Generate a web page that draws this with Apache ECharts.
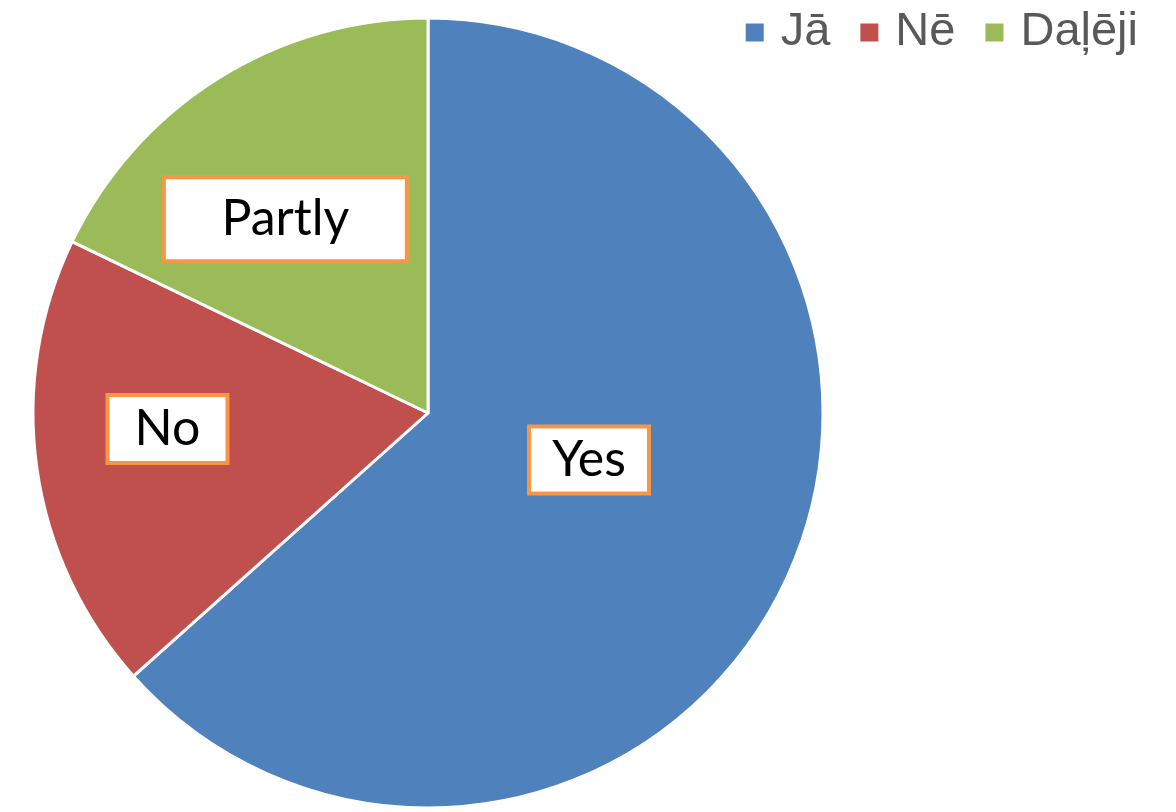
<!DOCTYPE html>
<html>
<head>
<meta charset="utf-8">
<script src="https://cdn.jsdelivr.net/npm/echarts@6/dist/echarts.min.js"></script>
<style>
  html, body { margin: 0; padding: 0; background: #ffffff; }
  #chart { width: 1176px; height: 812px; }
</style>
</head>
<body>
<div id="chart"></div>
<script>
// Survey answers: legend names, slice labels and response counts
const legendNames = ['Jā', 'Nē', 'Daļēji'];
const sliceLabels = ['Yes', 'No', 'Partly'];
const responses = [71, 21, 20];
const sliceColors = ['#4f81bd', '#c0504d', '#9bbb59'];

// Per-slice label box sizes and nudges from the default inside position
const labelBoxes = [
  { width: 116, height: 63, dx: -22, dy: -35 },
  { width: 116, height: 64, dx: -62, dy: -12 },
  { width: 239, height: 80, dx: -36, dy: -24 }
];

const chart = echarts.init(document.getElementById('chart'), null, { renderer: 'canvas' });

const data = responses.map((v, i) => ({
  name: legendNames[i],
  value: v,
  itemStyle: { color: sliceColors[i] },
  label: {
    formatter: sliceLabels[i],
    width: labelBoxes[i].width,
    height: labelBoxes[i].height,
    lineHeight: labelBoxes[i].height
  }
}));

chart.setOption({
  animation: false,
  backgroundColor: '#ffffff',
  legend: {
    data: legendNames,
    right: 33,
    top: 4,
    itemWidth: 20,
    itemHeight: 20,
    itemGap: 28,
    icon: 'rect',
    textStyle: {
      fontFamily: 'Liberation Sans, Arial, sans-serif',
      fontSize: 47,
      color: '#595959',
      padding: [0, 0, 0, 11]
    }
  },
  series: [{
    type: 'pie',
    center: [428, 413],
    radius: 395,
    startAngle: 90,
    clockwise: true,
    avoidLabelOverlap: false,
    itemStyle: { borderColor: '#ffffff', borderWidth: 3 },
    emphasis: { disabled: true },
    label: {
      show: true,
      position: 'inside',
      fontFamily: 'Lato, "Open Sans", sans-serif',
      fontSize: 50,
      color: '#000000',
      backgroundColor: '#ffffff',
      borderColor: '#f79646',
      borderWidth: 4,
      align: 'center',
      verticalAlign: 'middle'
    },
    labelLayout: function (params) {
      const b = labelBoxes[params.dataIndex];
      return { dx: b.dx, dy: b.dy };
    },
    data: data
  }]
});
</script>
</body>
</html>
